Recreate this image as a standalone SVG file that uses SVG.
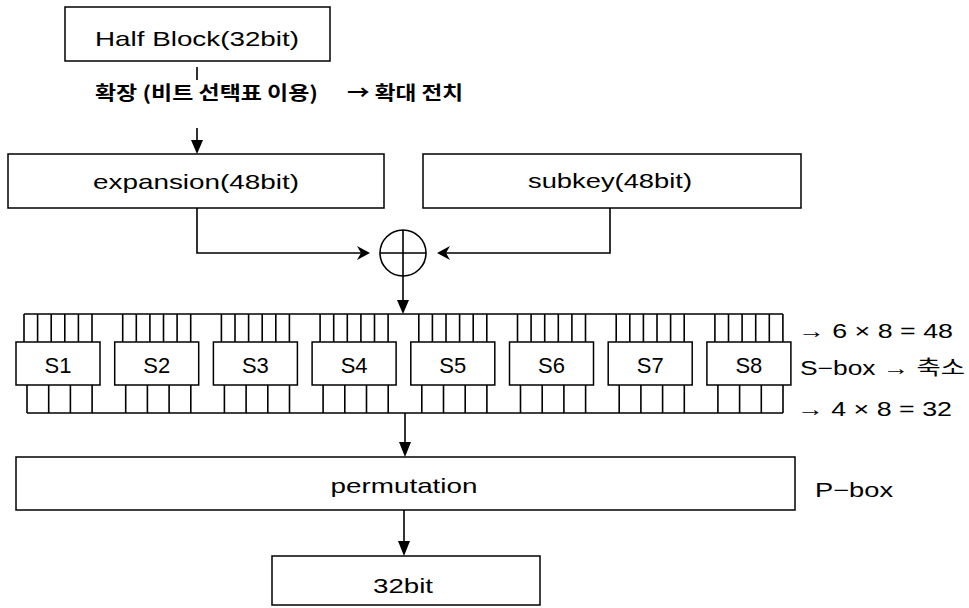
<svg xmlns="http://www.w3.org/2000/svg" width="969" height="608" viewBox="0 0 969 608">
<style>
.box{fill:#fff;stroke:#000;stroke-width:1.5}
.ln{fill:none;stroke:#000;stroke-width:1.6}
.ah{fill:#000;stroke:none}
.t{font-family:"Liberation Sans","Noto Sans CJK KR",sans-serif;font-size:21px;fill:#000;text-anchor:middle}
.s{font-family:"Liberation Sans","Noto Sans CJK KR",sans-serif;font-size:22px;fill:#000;text-anchor:middle}
.k{font-family:"Noto Sans CJK KR","Liberation Sans",sans-serif;font-size:19px;font-weight:bold;fill:#000}
.r{font-family:"Liberation Sans","Noto Sans CJK KR",sans-serif;font-size:20px;fill:#000}
</style>
<rect width="969" height="608" fill="#fff"/>
<g id="half-block"><rect class="box" x="65" y="7" width="265" height="54"/><text class="t" x="197" y="46" textLength="204" lengthAdjust="spacingAndGlyphs">Half  Block(32bit)</text></g>
<g id="expansion-label"><text class="k" x="95" y="100" textLength="223" lengthAdjust="spacingAndGlyphs">확장 (비트 선택표 이용)</text><text class="k" x="347" y="100" textLength="116" lengthAdjust="spacingAndGlyphs">→ 확대 전치</text></g>
<g id="expansion"><rect class="box" x="8" y="154" width="376" height="54"/><text class="t" x="196" y="189" textLength="206" lengthAdjust="spacingAndGlyphs">expansion(48bit)</text></g>
<g id="subkey"><rect class="box" x="423" y="154" width="378" height="54"/><text class="t" x="610" y="188" textLength="164" lengthAdjust="spacingAndGlyphs">subkey(48bit)</text></g>
<g id="xor"><circle class="ln" cx="403" cy="253" r="23"/><path class="ln" d="M403 230V276M380 253H426"/></g>
<g id="sboxes">
<g id="S1"><rect class="box" x="16" y="342" width="84" height="43"/><text class="s" x="58" y="373">S1</text></g>
<g id="S2"><rect class="box" x="114.7" y="342" width="84" height="43"/><text class="s" x="156.7" y="373">S2</text></g>
<g id="S3"><rect class="box" x="213.4" y="342" width="84" height="43"/><text class="s" x="255.4" y="373">S3</text></g>
<g id="S4"><rect class="box" x="312.1" y="342" width="84" height="43"/><text class="s" x="354.1" y="373">S4</text></g>
<g id="S5"><rect class="box" x="410.8" y="342" width="84" height="43"/><text class="s" x="452.8" y="373">S5</text></g>
<g id="S6"><rect class="box" x="509.5" y="342" width="84" height="43"/><text class="s" x="551.5" y="373">S6</text></g>
<g id="S7"><rect class="box" x="608.2" y="342" width="84" height="43"/><text class="s" x="650.2" y="373">S7</text></g>
<g id="S8"><rect class="box" x="706.9" y="342" width="84" height="43"/><text class="s" x="748.9" y="373">S8</text></g>
</g>
<g id="notes">
<text class="r" x="798" y="338" textLength="155" lengthAdjust="spacingAndGlyphs">→ 6 × 8 = 48</text>
<text class="r" x="800" y="375" textLength="165" lengthAdjust="spacingAndGlyphs">S−box → 축소</text>
<text class="r" x="797" y="416" textLength="155" lengthAdjust="spacingAndGlyphs">→ 4 × 8 = 32</text>
<text class="r" x="815" y="497" textLength="78" lengthAdjust="spacingAndGlyphs">P−box</text>
</g>
<g id="permutation"><rect class="box" x="16" y="457" width="779" height="53"/><text class="t" x="404" y="493" textLength="147" lengthAdjust="spacingAndGlyphs">permutation</text></g>
<g id="output"><rect class="box" x="272" y="556" width="268" height="49"/><text class="t" x="403" y="593" textLength="60" lengthAdjust="spacingAndGlyphs">32bit</text></g>
<g id="connectors">
<path class="ln" d="M197 67V80M197 128V142"/>
<polygon class="ah" points="191,140 203,140 197,154"/>
<path class="ln" d="M197 208V253H362"/>
<polygon class="ah" points="370,253 357,246 361,253 357,260"/>
<path class="ln" d="M610 208V253H444"/>
<polygon class="ah" points="437,253 450,246 446,253 450,260"/>
<path class="ln" d="M403 276V302"/>
<polygon class="ah" points="397,300 409,300 403,314"/>
<path class="ln" d="M24 314H783"/>
<path class="ln" d="M24 314V342M37.6 314V342M51.2 314V342M64.8 314V342M78.4 314V342M92 314V342
M122.7 314V342M136.3 314V342M149.9 314V342M163.5 314V342M177.1 314V342M190.7 314V342
M221.4 314V342M235 314V342M248.6 314V342M262.2 314V342M275.8 314V342M289.4 314V342
M320.1 314V342M333.7 314V342M347.3 314V342M360.9 314V342M374.5 314V342M388.1 314V342
M418.8 314V342M432.4 314V342M446 314V342M459.6 314V342M473.2 314V342M486.8 314V342
M517.5 314V342M531.1 314V342M544.7 314V342M558.3 314V342M571.9 314V342M585.5 314V342
M616.2 314V342M629.8 314V342M643.4 314V342M657 314V342M670.6 314V342M684.2 314V342
M714.9 314V342M728.5 314V342M742.1 314V342M755.7 314V342M769.3 314V342M782.9 314V342"/>
<path class="ln" d="M27 385V413M48.7 385V413M70.4 385V413M92.1 385V413
M125.7 385V413M147.4 385V413M169.1 385V413M190.8 385V413
M224.4 385V413M246.1 385V413M267.8 385V413M289.5 385V413
M323.1 385V413M344.8 385V413M366.5 385V413M388.2 385V413
M421.8 385V413M443.5 385V413M465.2 385V413M486.9 385V413
M520.5 385V413M542.2 385V413M563.9 385V413M585.6 385V413
M619.2 385V413M640.9 385V413M662.6 385V413M684.3 385V413
M717.9 385V413M739.6 385V413M761.3 385V413M783 385V413"/>
<path class="ln" d="M27 413H783"/>
<path class="ln" d="M405 413V444"/>
<polygon class="ah" points="399,442 411,442 405,457"/>
<path class="ln" d="M404 510V543"/>
<polygon class="ah" points="398,541 410,541 404,556"/>
</g>
</svg>
